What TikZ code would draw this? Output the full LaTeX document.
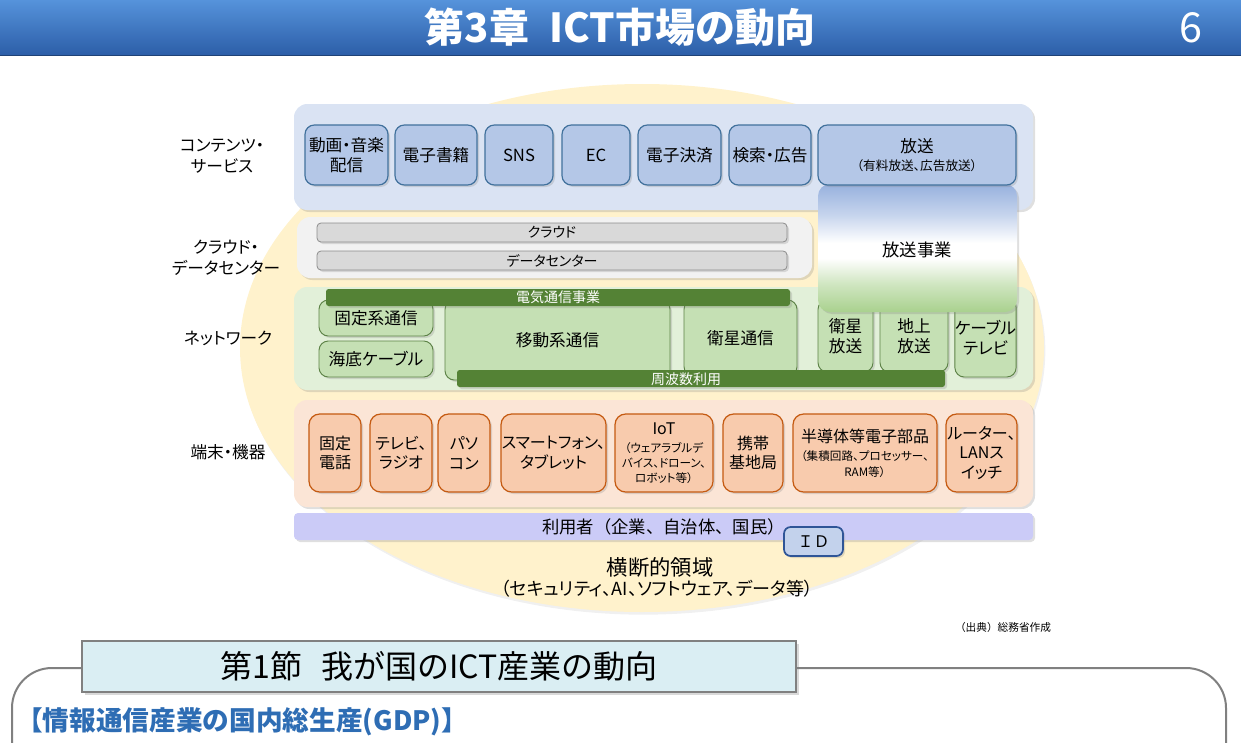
\documentclass[tikz,border=0pt]{standalone}
\usepackage{fontspec}
\setmainfont{Noto Sans CJK JP}[RawFeature={+palt}]
\newfontfamily\plainjp{Noto Sans CJK JP}
\usetikzlibrary{shadows,shapes.geometric}
\definecolor{tbA}{HTML}{5592DA}
\definecolor{tbB}{HTML}{2C5EA8}
\definecolor{ellfill}{HTML}{FFF2CC}
\definecolor{contband}{HTML}{DAE3F3}
\definecolor{cfill}{HTML}{B4C7E7}
\definecolor{cborder}{HTML}{41719C}
\definecolor{cloudband}{HTML}{F2F2F2}
\definecolor{cloudbar}{HTML}{D9D9D9}
\definecolor{cloudline}{HTML}{8C8C8C}
\definecolor{netband}{HTML}{E2F0D9}
\definecolor{gfill}{HTML}{C5E0B4}
\definecolor{gborder}{HTML}{5E8348}
\definecolor{dgreen}{HTML}{548235}
\definecolor{termband}{HTML}{FBE5D6}
\definecolor{ofill}{HTML}{F8CBAD}
\definecolor{oborder}{HTML}{C55A11}
\definecolor{userbar}{HTML}{CBCBF7}
\definecolor{idborder}{HTML}{2F5597}
\definecolor{bblue}{HTML}{97B1DE}
\definecolor{bgreen}{HTML}{A9D18E}
\definecolor{secfill}{HTML}{DAEEF3}
\definecolor{secline}{HTML}{808080}
\definecolor{gdpblue}{HTML}{2E6DB4}
\pgfdeclareverticalshading{bcol}{100bp}{color(0bp)=(bgreen); color(25bp)=(bgreen); color(36bp)=(bgreen!55!white); color(46bp)=(white); color(52bp)=(white); color(63bp)=(bblue!55!white); color(75bp)=(bblue); color(100bp)=(bblue)}
\newcommand\fsz[2]{\fontsize{#1}{#2}\selectfont}
\newcommand\sm{\fsz{8.7}{11}}
\tikzset{
  box/.style n args={4}{minimum width={(#3-#1)*0.75pt}, minimum height={(#4-#2)*0.75pt}, at={({(#1+#3)/2},{(#2+#4)/2})}},
  shad/.style={drop shadow={opacity=0.25,shadow xshift=1.5pt,shadow yshift=-1.5pt}},
  band/.style={inner sep=0pt, rounded corners=10pt, shad},
  blk/.style={inner sep=0pt, align=center, font=\fsz{12.5}{15}},
  cbox/.style={blk, rounded corners=7pt, fill=cfill, draw=cborder, line width=0.9pt, shad},
  gbox/.style={blk, rounded corners=7pt, fill=gfill, draw=gborder, line width=0.7pt, shad},
  obox/.style={blk, rounded corners=8pt, fill=ofill, draw=oborder, line width=0.9pt, font=\fsz{12}{14.5}, shad},
  cbar/.style={blk, rounded corners=3pt, fill=cloudbar, draw=cloudline, line width=0.6pt, font=\fsz{10.5}{12}, shad},
  dbar/.style={blk, rounded corners=2pt, fill=dgreen, text=white, font=\fsz{10.5}{12}, shad},
  lab/.style={align=center, font=\fsz{12.5}{15.5}, inner sep=0pt},
}
\begin{document}
\begin{tikzpicture}[x=0.75pt,y=-0.75pt]
\useasboundingbox (0,0) rectangle (1241,742);
% title bar
\node[inner sep=0pt, top color=tbA, bottom color=tbB, box={0}{1}{1241}{55}] (titlebar) {};
\draw[tbB!70!black, line width=1pt] (titlebar.south west) -- (titlebar.south east);
\node[text=white, font=\bfseries\plainjp\fsz{30}{34}] (title) at (620,27) {第3章\hspace{0.5em}ICT市場の動向};
\node[text=white, font=\fsz{31}{34}] (pagenum) at (1191,28) {6};
% ellipse
\node[ellipse, fill=ellfill, minimum width=603pt, minimum height=396pt, inner sep=0pt, drop shadow={opacity=0.12,shadow xshift=1pt,shadow yshift=-2pt}] (oval) at (642,348) {};
% bands
\node[band, fill=contband, box={294}{104}{1033}{210}] (contentband) {};
\node[band, fill=cloudband, box={297}{217}{812}{278}] (cloudbandn) {};
\node[band, fill=netband, box={294}{287}{1033}{390}] (netbandn) {};
\node[band, fill=termband, box={294}{400}{1033}{507}] (termbandn) {};
\node[blk, rounded corners=3pt, fill=userbar, box={294}{513}{1033}{540}, font=\plainjp\fsz{13}{15}, shad] (users) {利用者（企業、自治体、国民）};
% left labels
\node[lab] (l1) at (222,156) {コンテンツ・\\サービス};
\node[lab] (l2) at (226,258) {クラウド・\\データセンター};
\node[lab] (l3) at (228,338) {ネットワーク};
\node[lab] (l4) at (228,452) {端末・機器};
% content boxes
\node[cbox, box={305}{125}{388}{185}] (c1) {動画・音楽\\配信};
\node[cbox, box={395}{125}{477}{185}] (c2) {電子書籍};
\node[cbox, box={485}{125}{553}{185}] (c3) {SNS};
\node[cbox, box={562}{125}{630}{185}] (c4) {EC};
\node[cbox, box={638}{125}{721}{185}] (c5) {電子決済};
\node[cbox, box={729}{125}{811}{185}] (c6) {検索・広告};
% cloud bars
\node[cbar, box={317}{223}{787}{242}] (cloud) {クラウド};
\node[cbar, box={317}{251}{787}{270}] (dc) {データセンター};
% network boxes
\node[gbox, box={319}{300}{433}{336}] (n1) {固定系通信};
\node[gbox, box={319}{341}{433}{377}] (n2) {海底ケーブル};
\node[gbox, box={445}{300}{670}{380}] (n3) {移動系通信};
\node[gbox, box={684}{300}{797}{376}] (n4) {衛星通信};
\node[gbox, box={818}{300}{873}{372}] (n5) {衛星\\放送};
\node[gbox, box={880}{300}{948}{372}] (n6) {地上\\放送};
\node[gbox, box={955}{298}{1016}{377}] (n7) {ケーブル\\テレビ};
\node[dbar, box={326}{289}{790}{306}] (denki) {電気通信事業};
\node[dbar, box={457}{370}{945}{387}] (shuha) {};
\node[inner sep=0pt, text=white, font=\fsz{10.5}{12}] (shuhat) at (686,379) {周波数利用};
% broadcasting column
\node[inner sep=0pt, rounded corners=9pt, shading=bcol, box={818}{184}{1017}{312}, shad] (hosojigyo) {};
\node[inner sep=0pt, font=\fsz{13}{15}] (hosojigyot) at (917,250) {放送事業};
\node[cbox, box={818}{125}{1016}{185}] (c7) {放送\\[-1pt]\fsz{9.5}{12}（有料放送、広告放送）};
% terminal boxes
\node[obox, box={309}{414}{361}{492}] (t1) {固定\\電話};
\node[obox, box={370}{414}{432}{492}] (t2) {テレビ、\\ラジオ};
\node[obox, box={438}{414}{490}{492}] (t3) {パソ\\コン};
\node[obox, box={501}{414}{606}{492}] (t4) {スマートフォン、\\タブレット};
\node[obox, box={615}{414}{713}{492}] (t5) {\fsz{12}{14}IoT\\[-1pt]\sm（ウェアラブルデ\\[-3.3pt]\sm バイス、ドローン、\\[-3.3pt]\sm ロボット等）};
\node[obox, box={723}{414}{783}{492}] (t6) {携帯\\基地局};
\node[obox, box={793}{414}{937}{492}] (t7) {半導体等電子部品\\[-1pt]\sm（集積回路、プロセッサー、\\[-2.5pt]\sm RAM等）};
\node[obox, box={946}{414}{1017}{492}] (t8) {ルーター、\\LANス\\イッチ};
% ID
\node[blk, rounded corners=5pt, fill=cfill!80!white, draw=idborder, line width=1.3pt, box={784}{527}{843}{556}, font=\plainjp\fsz{12}{14}, shad] (id) {ＩＤ};
% cross-cutting
\node[align=center, inner sep=0pt, font=\fsz{16}{20}] (cross) at (660,567) {横断的領域};
\node[align=center, inner sep=0pt, font=\fsz{13.5}{16}] (cross2) at (657,589) {（セキュリティ、AI、ソフトウェア、データ等）};
\node[inner sep=0pt, font=\plainjp\fsz{8}{10}] (src) at (1003,627) {（出典）総務省作成};
% section
\draw[secline, line width=1.5pt, rounded corners=30pt] (12,760) |- (1226,668) -- (1226,760);
\node[inner sep=0pt, fill=secfill, draw=secline, line width=0.8pt, box={82}{641}{796}{692}, font=\plainjp\fsz{24}{28}, drop shadow={opacity=0.3,shadow xshift=2pt,shadow yshift=-2pt}] (sec) {第1節\hspace{0.6em}我が国のICT産業の動向};
\node[anchor=west, inner sep=0pt, text=gdpblue, font=\bfseries\plainjp\fsz{20}{22}] (gdp) at (16,722) {【情報通信産業の国内総生産(GDP)】};
\end{tikzpicture}
\end{document}
